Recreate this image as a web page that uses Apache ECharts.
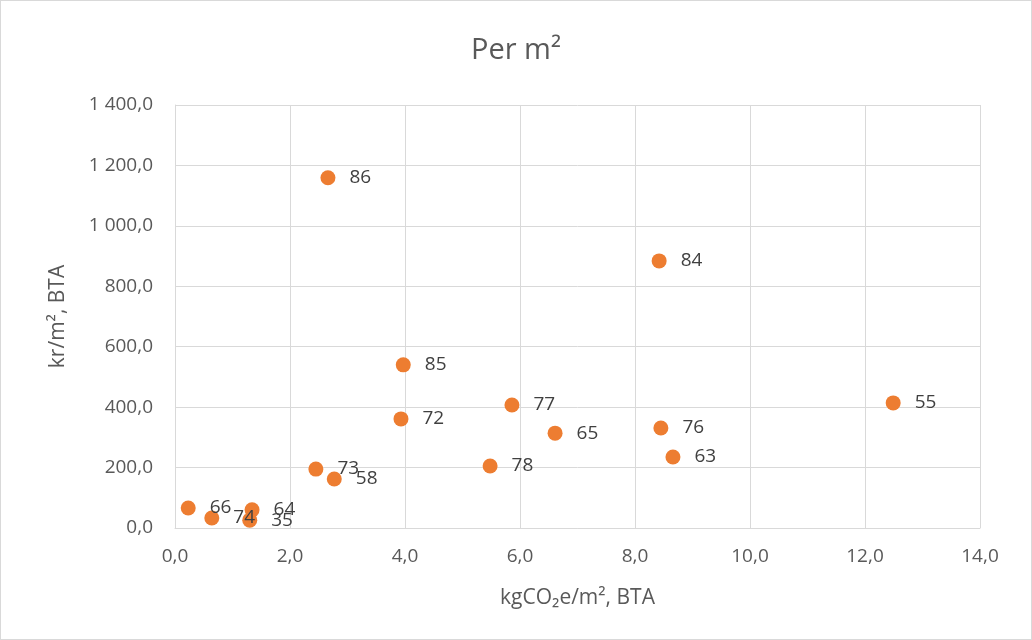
<!DOCTYPE html>
<html>
<head>
<meta charset="utf-8">
<script src="https://cdn.jsdelivr.net/npm/echarts@6/dist/echarts.min.js"></script>
<style>
  html, body { margin: 0; padding: 0; background: #fff; }
  #mychart { width: 1030px; height: 638px; border: 1px solid #d9d9d9; }
</style>
</head>
<body>
<div id="mychart"></div>
<script>
// project ids and values
const ids = ['86', '84', '85', '77', '72', '65', '76', '63', '55', '78', '73', '58', '66', '74', '64', '35']
const co2 = [2.66, 8.42, 3.97, 5.86, 3.93, 6.61, 8.45, 8.66, 12.49, 5.48, 2.45, 2.77, 0.23, 0.64, 1.34, 1.30]
const cost = [1159, 884, 540, 407, 361, 314, 331, 235, 414, 205, 195, 162, 66, 33, 60, 26]

function fmt(v) {
    let s = v.toFixed(1).replace('.', ',')
    let parts = s.split(',')
    parts[0] = parts[0].replace(/\B(?=(\d{3})+(?!\d))/g, ' ')
    return parts.join(',')
}

let points = []
for (let i = 0; i < ids.length; i++) {
    points.push({ value: [co2[i], cost[i]], name: ids[i] })
}

let font = '"Open Sans", "Noto Sans", sans-serif'
let myChart = echarts.init(document.getElementById('mychart'))
myChart.setOption({
    animation: false,
    textStyle: { fontFamily: font },
    title: {
        text: 'Per m²',
        left: 'center',
        top: 30,
        textStyle: { fontSize: 29, fontWeight: 'normal', color: '#595959', fontFamily: font }
    },
    grid: { left: 174, right: 51, top: 104, bottom: 111 },
    xAxis: {
        type: 'value',
        min: 0, max: 14, interval: 2,
        name: 'kgCO₂e/m², BTA',
        nameLocation: 'middle',
        nameGap: 60,
        nameTextStyle: { fontSize: 21, color: '#595959' },
        axisLine: { show: true, lineStyle: { color: '#d9d9d9' } },
        axisTick: { show: false },
        axisLabel: { fontSize: 19, color: '#595959', margin: 19, formatter: fmt },
        splitLine: { lineStyle: { color: '#d9d9d9' } }
    },
    yAxis: {
        type: 'value',
        min: 0, max: 1400, interval: 200,
        name: 'kr/m², BTA',
        nameLocation: 'middle',
        nameGap: 106,
        nameTextStyle: { fontSize: 21, color: '#595959' },
        axisLine: { show: true, lineStyle: { color: '#d9d9d9' } },
        axisTick: { show: false },
        axisLabel: { fontSize: 19, color: '#595959', margin: 22, formatter: fmt },
        splitLine: { lineStyle: { color: '#d9d9d9' } }
    },
    series: [{
        type: 'scatter',
        symbolSize: 15,
        itemStyle: { color: '#ed7d31', opacity: 1 },
        data: points,
        label: {
            show: true,
            position: 'right',
            distance: 14,
            offset: [0, 3],
            fontSize: 19,
            color: '#404040',
            formatter: p => p.name
        },
        labelLayout: { hideOverlap: false }
    }]
})
</script>
</body>
</html>
